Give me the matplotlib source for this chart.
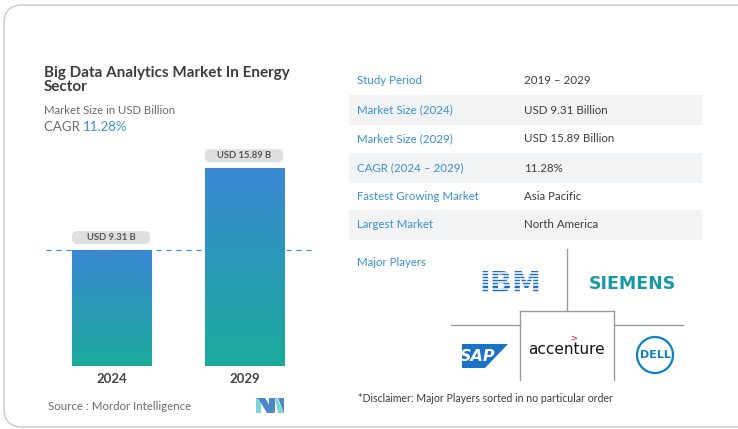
import matplotlib
matplotlib.use("Agg")
import matplotlib.pyplot as plt
import numpy as np
from matplotlib.patches import FancyBboxPatch, Rectangle, Polygon, Ellipse
from matplotlib.colors import LinearSegmentedColormap

# ---------------- data ----------------
years = ["2024", "2029"]
values = [9.31, 15.89]
value_labels = ["USD 9.31 B", "USD 15.89 B"]
title = "Big Data Analytics Market In Energy\nSector"
subtitle = "Market Size in USD Billion"
cagr_text = "11.28%"
table_keys = ["Study Period", "Market Size (2024)", "Market Size (2029)",
              "CAGR (2024 – 2029)", "Fastest Growing Market", "Largest Market"]
table_vals = ["2019 – 2029", "USD 9.31 Billion", "USD 15.89 Billion",
              "11.28%", "Asia Pacific", "North America"]
source = "Source : Mordor Intelligence"
disclaimer = "*Disclaimer: Major Players sorted in no particular order"

W, H = 738, 429
plt.rcParams['font.family'] = ['Lato', 'DejaVu Sans']
fig = plt.figure(figsize=(W / 100, H / 100), dpi=100)
fig.patch.set_facecolor("white")

BLUE = "#3a8fd8"
DARK = "#3d3d3d"
GRAY = "#6b6b6b"


def fx(x):
    return x / W


def fy(y):
    return 1 - y / H


def ftext(x, y, s, **kw):
    return fig.text(fx(x), fy(y), s, **kw)


# outer rounded border
border = FancyBboxPatch((fx(4), fy(427)), fx(760), (427 - 5) / H,
                        boxstyle="round,pad=0,rounding_size=0.025",
                        transform=fig.transFigure, facecolor="none",
                        edgecolor="#c8c8c8", linewidth=1.0,
                        mutation_aspect=W / H)
fig.patches.append(border)

# ---------------- title block ----------------
ftext(44, 80, title, fontsize=11, fontweight="bold", color=DARK,
      va="center", ha="left", linespacing=1.0)
ftext(44, 111, subtitle, fontsize=8.2, color=GRAY, va="center")
t = ftext(44, 127, "CAGR ", fontsize=9.5, color=GRAY, va="center")
fig.canvas.draw()
bb = t.get_window_extent()
fig.text(bb.x1 / W, fy(127), cagr_text, fontsize=9.5, color=BLUE, va="center")

# ---------------- bars ----------------
ax_left, ax_right, ax_top, ax_bot = 46, 312, 140, 366
ax = fig.add_axes([fx(ax_left), fy(ax_bot), (ax_right - ax_left) / W,
                   (ax_bot - ax_top) / H])
ymax = (ax_bot - ax_top) / 12.45
ax.axis("off")

cmap = LinearSegmentedColormap.from_list("g", ["#1aab9b", "#3a88d2"])
grad = np.linspace(0, 1, 256).reshape(-1, 1)
bw = 0.594
xs = np.arange(len(years))
bars = ax.bar(xs, values, width=bw, color="none", edgecolor="none")
for b in bars:
    x0, w_, h_ = b.get_x(), b.get_width(), b.get_height()
    im = ax.imshow(grad, cmap=cmap, origin="lower", aspect="auto",
                   extent=[x0, x0 + w_, 0, h_], zorder=2)
    im.set_clip_path(b)
ax.set_xlim(-0.4925, 1.5075)
ax.set_ylim(0, ymax)

ax.axhline(values[0], color=BLUE, linestyle=(0, (4, 4)), linewidth=0.9, zorder=1)

ypx = ymax / (ax_bot - ax_top)      # data units per px (y)
xpx = 2.0 / (ax_right - ax_left)    # data units per px (x)
for xi, v, lab in zip(xs, values, value_labels):
    pw = 78 * xpx
    ph = 13 * ypx
    px0 = xi - pw / 2 - 0.5 * xpx
    py0 = v + 6 * ypx
    pill = FancyBboxPatch((px0, py0), pw, ph,
                          boxstyle="round,pad=0,rounding_size=%f" % (5 * xpx),
                          mutation_aspect=ypx / xpx,
                          facecolor="#dedfe1", edgecolor="none", zorder=3,
                          clip_on=False)
    ax.add_patch(pill)
    ax.text(xi - 0.5 * xpx, py0 + ph / 2, lab, ha="center", va="center",
            fontsize=6.8, fontweight="bold", color="#555555", zorder=4)
    ax.text(xi, -13 * ypx, years[xi], ha="center", va="center",
            fontsize=9.5, fontweight="bold", color="#444444", clip_on=False)

ftext(48, 407, source, fontsize=8.3, color=GRAY, va="center")

# Mordor logo
lx, ly = 256, 398
logo_polys = [
    ([(lx, ly), (lx + 5, ly), (lx + 5, ly + 15), (lx, ly + 15)], "#7fd3d6"),
    ([(lx + 2, ly), (lx + 9, ly), (lx + 18, ly + 15), (lx + 11, ly + 15)], "#4c86c6"),
    ([(lx + 13, ly), (lx + 19, ly), (lx + 19, ly + 15), (lx + 13, ly + 10)], "#4c86c6"),
    ([(lx + 19, ly), (lx + 21, ly), (lx + 28, ly + 15), (lx + 22, ly + 15)], "#7fd3d6"),
    ([(lx + 22, ly), (lx + 28, ly), (lx + 28, ly + 15)], "#4c86c6"),
]
for pts, c in logo_polys:
    fig.patches.append(Polygon([(fx(a), fy(b)) for a, b in pts], closed=True,
                               transform=fig.transFigure, facecolor=c,
                               edgecolor="none"))

# ---------------- table ----------------
row_y = [81, 110, 139, 168, 196, 225]
for i, (k, v) in enumerate(zip(table_keys, table_vals)):
    y = row_y[i]
    if i % 2 == 1:
        fig.patches.append(Rectangle((fx(349), fy(y + 15)), fx(702 - 349), 30 / H,
                                     transform=fig.transFigure,
                                     facecolor="#f2f3f5", edgecolor="none"))
    ftext(357, y, k, fontsize=8.3, color=BLUE, va="center")
    ftext(524, y, v, fontsize=8.3, color=DARK, va="center")

ftext(357, 263, "Major Players", fontsize=8.3, color=BLUE, va="center")

# logo grid lines
LG = "#9a9a9a"


def fline(x0, y0, x1, y1, **kw):
    fig.add_artist(plt.Line2D([fx(x0), fx(x1)], [fy(y0), fy(y1)],
                              transform=fig.transFigure, **kw))


fline(567, 249, 567, 311, color=LG, lw=1.0)
fline(451, 325, 520, 325, color=LG, lw=1.0)
fline(614, 325, 683, 325, color=LG, lw=1.0)
fline(520, 311, 614, 311, color=LG, lw=1.0)
fline(520, 311, 520, 380, color=LG, lw=1.0)
fline(614, 311, 614, 380, color=LG, lw=1.0)

# IBM logo
ftext(510, 284, "IBM", fontsize=21, fontweight="bold", color="#1f70c1",
      ha="center", va="center", family="DejaVu Sans", zorder=5)
for yy in np.arange(273.0, 297, 3.1):
    fline(470, yy, 550, yy, color="white", lw=1.1, zorder=6)

# SIEMENS
ftext(632, 284, "SIEMENS", fontsize=12.5, fontweight="bold", color="#179aa3",
      ha="center", va="center", family="DejaVu Sans")

# SAP
sap = [(462, 344), (508, 344), (485, 368), (462, 368)]
fig.patches.append(Polygon([(fx(a), fy(b)) for a, b in sap], closed=True,
                           transform=fig.transFigure, facecolor="#1a73c8",
                           edgecolor="none"))
ftext(478, 356.5, "SAP", fontsize=11.5, fontweight="bold", color="white",
      ha="center", va="center", family="DejaVu Sans", style="italic")

# accenture
ftext(566, 350, "accenture", fontsize=11, color="#111111", ha="center",
      va="center", family="DejaVu Sans")
ftext(574, 338, ">", fontsize=6, color="#c8102e", ha="center", va="center",
      family="DejaVu Sans")

# DELL
r = 18
fig.patches.append(Ellipse((fx(655), fy(355)), 2 * r / W, 2 * r / H,
                           transform=fig.transFigure,
                           facecolor="none", edgecolor="#0a82c8", lw=1.6))
ftext(655, 355, "DELL", fontsize=8, fontweight="bold", color="#0a82c8",
      ha="center", va="center", family="DejaVu Sans")

ftext(358, 398, disclaimer, fontsize=7.6, color=DARK, va="center")

fig.savefig("out.png", dpi=100, facecolor="white")
